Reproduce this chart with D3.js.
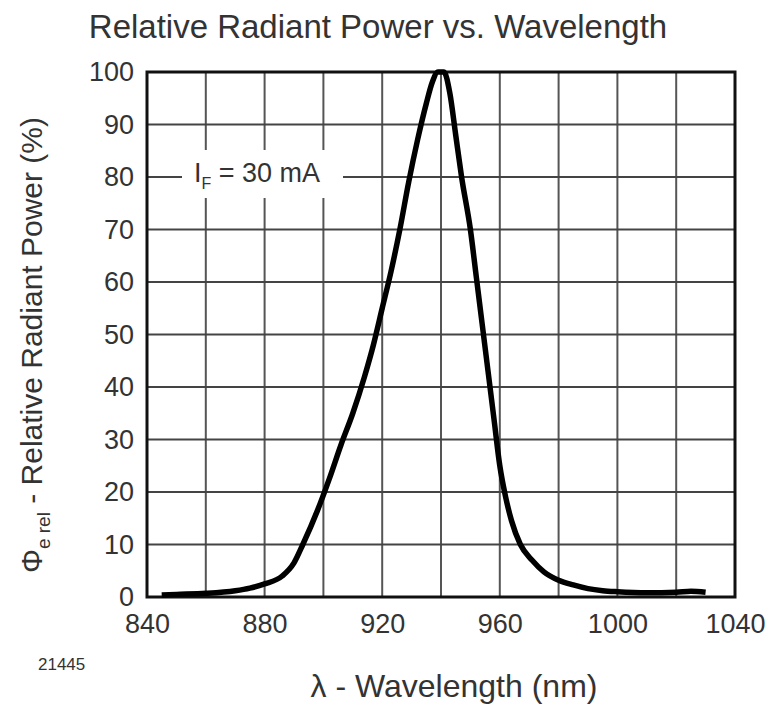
<!DOCTYPE html>
<html>
<head>
<meta charset="utf-8">
<script src="https://cdn.jsdelivr.net/npm/d3@7"></script>
<style>
  body { margin: 0; background: #fff; }
  text { font-family: "Liberation Sans", Arial, sans-serif; fill: #333; }
</style>
</head>
<body>
<div id="plot"></div>
<script>
// Chart values
const wavelength = [845, 850, 860, 870, 875, 880, 886, 890, 893, 898, 902, 906, 910, 914, 917, 920, 923, 926, 929, 932, 935, 937, 939, 941, 943, 945, 947, 950, 952, 954, 956, 958, 960, 962, 964, 967, 971, 975, 980, 985, 990, 995, 1000, 1010, 1020, 1025, 1030];
const power = [0.4, 0.5, 0.7, 1.2, 1.7, 2.5, 4, 6.5, 10, 16.5, 22.5, 29, 35, 42, 48, 55, 62, 70, 79, 87, 94, 98, 100, 100, 96, 88, 80, 70, 61, 52, 43, 34, 25, 19, 14.5, 10, 7, 4.8, 3.2, 2.3, 1.6, 1.2, 1, 0.8, 0.9, 1.1, 0.9];
const xTicks = [840, 860, 880, 900, 920, 940, 960, 980, 1000, 1020, 1040];
const xTickLabels = [840, 880, 920, 960, 1000, 1040];
const yTicks = [0, 10, 20, 30, 40, 50, 60, 70, 80, 90, 100];

const width = 771;
const height = 704;
const margin = { top: 72, right: 36, bottom: 107, left: 147 };

const svg = d3.select("#plot")
  .append("svg")
  .attr("width", width)
  .attr("height", height);

const x = d3.scaleLinear().domain([840, 1040]).range([margin.left, width - margin.right]);
const y = d3.scaleLinear().domain([0, 100]).range([height - margin.bottom, margin.top]);

// grid
svg.append("g")
  .selectAll("line")
  .data(xTicks.slice(1, -1))
  .enter().append("line")
  .attr("x1", d => x(d)).attr("x2", d => x(d))
  .attr("y1", y(100)).attr("y2", y(0))
  .attr("stroke", "#555").attr("stroke-width", 2);

svg.append("g")
  .selectAll("line")
  .data(yTicks.slice(1, -1))
  .enter().append("line")
  .attr("x1", x(840)).attr("x2", x(1040))
  .attr("y1", d => y(d)).attr("y2", d => y(d))
  .attr("stroke", "#444").attr("stroke-width", 2);

// annotation box hides grid behind it
svg.append("rect")
  .attr("x", 182).attr("y", 150)
  .attr("width", 161).attr("height", 48)
  .attr("fill", "#fff");

const note = svg.append("text")
  .attr("x", 194).attr("y", y(80) + 5)
  .style("font-size", "27px");
note.append("tspan").text("I");
note.append("tspan").attr("dy", 7).style("font-size", "16px").text("F");
note.append("tspan").attr("dy", -7).text(" = 30 mA");

// frame
svg.append("rect")
  .attr("x", x(840)).attr("y", y(100))
  .attr("width", x(1040) - x(840)).attr("height", y(0) - y(100))
  .attr("fill", "none").attr("stroke", "#111").attr("stroke-width", 3);

// curve
const line = d3.line()
  .x((d, i) => x(wavelength[i]))
  .y(d => y(d))
  .curve(d3.curveMonotoneX);

svg.append("path")
  .datum(power)
  .attr("d", line)
  .attr("fill", "none")
  .attr("stroke", "#000")
  .attr("stroke-width", 5.5)
  .attr("stroke-linejoin", "round");

// axes
const xAxis = d3.axisBottom(x).tickValues(xTickLabels).tickFormat(d3.format("d")).tickSize(0).tickPadding(17);
svg.append("g")
  .attr("transform", `translate(0,${y(0)})`)
  .call(xAxis)
  .call(g => g.select(".domain").remove())
  .selectAll("text")
  .style("font-size", "27px").style("font-family", "Liberation Sans, Arial, sans-serif").attr("fill", "#333");

const yAxis = d3.axisLeft(y).tickValues(yTicks).tickFormat(d3.format("d")).tickSize(0).tickPadding(13);
svg.append("g")
  .attr("transform", `translate(${x(840)},0)`)
  .call(yAxis)
  .call(g => g.select(".domain").remove())
  .selectAll("text")
  .style("font-size", "27px").style("font-family", "Liberation Sans, Arial, sans-serif").attr("fill", "#333");

// titles
svg.append("text")
  .attr("x", 378).attr("y", 38)
  .attr("text-anchor", "middle")
  .style("font-size", "33px")
  .text("Relative Radiant Power vs. Wavelength");

svg.append("text")
  .attr("x", 454).attr("y", 697)
  .attr("text-anchor", "middle")
  .style("font-size", "32px")
  .text("λ - Wavelength (nm)");

svg.append("text")
  .attr("x", 38).attr("y", 670)
  .style("font-size", "17px")
  .text("21445");

const yl = svg.append("text")
  .attr("transform", "translate(42,345) rotate(-90)")
  .attr("text-anchor", "middle")
  .style("font-size", "30px");
yl.append("tspan").text("Φ");
yl.append("tspan").attr("dy", 8).style("font-size", "19px").text("e rel");
yl.append("tspan").attr("dy", -8).text(" - Relative Radiant Power (%)");
</script>
</body>
</html>
